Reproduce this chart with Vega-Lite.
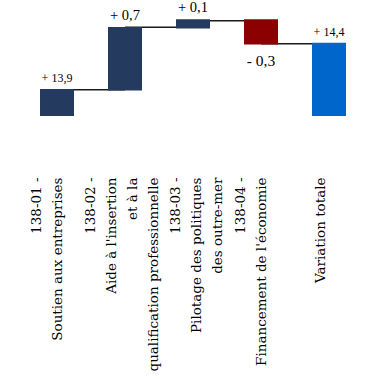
{
  "$schema": "https://vega.github.io/schema/vega-lite/v6.json",
  "autosize": "none",
  "width": 340,
  "height": 116,
  "padding": {"left": 23, "top": 0, "right": 11, "bottom": 263},
  "background": "white",
  "config": {"view": {"stroke": null}},
  "datasets": {
    "bars": [
      {"cat": "138-01 -\nSoutien aux entreprises", "start": 0, "end": 27, "label": "+ 13,9", "kind": "hausse", "value": 13.9},
      {"cat": "138-02 -\nAide à l'insertion\net à la\nqualification professionnelle", "start": 25.5, "end": 89, "label": "+ 0,7", "kind": "hausse", "value": 0.7},
      {"cat": "138-03 -\nPilotage des politiques\ndes outre-mer", "start": 87.5, "end": 96.7, "label": "+ 0,1", "kind": "hausse", "value": 0.1},
      {"cat": "138-04 -\nFinancement de l'économie", "start": 96.7, "end": 71.5, "label": "- 0,3", "kind": "baisse", "value": -0.3},
      {"cat": "Variation totale", "start": 0, "end": 73.3, "label": "+ 14,4", "kind": "total", "value": 14.4}
    ],
    "connectors": [
      {"from": "138-01 -\nSoutien aux entreprises", "to": "138-02 -\nAide à l'insertion\net à la\nqualification professionnelle", "level": 26.3},
      {"from": "138-02 -\nAide à l'insertion\net à la\nqualification professionnelle", "to": "138-03 -\nPilotage des politiques\ndes outre-mer", "level": 88.7},
      {"from": "138-03 -\nPilotage des politiques\ndes outre-mer", "to": "138-04 -\nFinancement de l'économie", "level": 95.3},
      {"from": "138-04 -\nFinancement de l'économie", "to": "Variation totale", "level": 72.3}
    ]
  },
  "layer": [
    {
      "data": {"name": "connectors"},
      "mark": {"type": "rule", "color": "#1a1a1a", "strokeWidth": 1.4},
      "encoding": {
        "x": {"field": "from", "type": "nominal", "sort": null,
          "scale": {"domain": ["138-01 -\nSoutien aux entreprises", "138-02 -\nAide à l'insertion\net à la\nqualification professionnelle", "138-03 -\nPilotage des politiques\ndes outre-mer", "138-04 -\nFinancement de l'économie", "Variation totale"], "paddingInner": 0.5, "paddingOuter": 0.25}},
        "x2": {"field": "to"},
        "y": {"field": "level", "type": "quantitative", "scale": {"domain": [0, 116], "nice": false, "zero": false}, "axis": null}
      }
    },
    {
      "data": {"name": "bars"},
      "mark": {"type": "bar"},
      "encoding": {
        "x": {
          "field": "cat", "type": "nominal", "sort": null,
          "axis": {
            "title": null, "labelAngle": -90, "domain": false, "ticks": false, "tickSize": 0,
            "labelPadding": 61, "labelFont": "DejaVu Serif", "labelFontSize": 13.5,
            "labelColor": "#000000", "labelLineHeight": 21, "labelLimit": 0,
            "labelOffset": {"expr": "indexof(datum.value, '138-02') >= 0 ? -34 : indexof(datum.value, '138-03') >= 0 ? -17 : indexof(datum.value, 'Variation') >= 0 ? -8 : -20"},
            "labelExpr": "split(datum.label, '\\n')"
          }
        },
        "y": {"field": "start", "type": "quantitative"},
        "y2": {"field": "end"},
        "color": {
          "field": "kind", "type": "nominal", "legend": null,
          "scale": {"domain": ["hausse", "baisse", "total"], "range": ["#243A5E", "#8B0000", "#0066CC"]}
        }
      }
    },
    {
      "data": {"name": "bars"},
      "transform": [{"filter": "datum.value >= 0"}],
      "mark": {"type": "text", "font": "Liberation Serif", "baseline": "alphabetic", "dy": -7, "color": "#000000"},
      "encoding": {
        "x": {"field": "cat", "type": "nominal", "sort": null},
        "y": {"field": "end", "type": "quantitative"},
        "text": {"field": "label"},
        "size": {"condition": {"test": "datum.value > 1", "value": 12}, "value": 14.5}
      }
    },
    {
      "data": {"name": "bars"},
      "transform": [{"filter": "datum.value < 0"}],
      "mark": {"type": "text", "font": "Liberation Serif", "baseline": "top", "dy": 9, "color": "#000000", "fontSize": 15.5},
      "encoding": {
        "x": {"field": "cat", "type": "nominal", "sort": null},
        "y": {"field": "end", "type": "quantitative"},
        "text": {"field": "label"}
      }
    }
  ]
}
